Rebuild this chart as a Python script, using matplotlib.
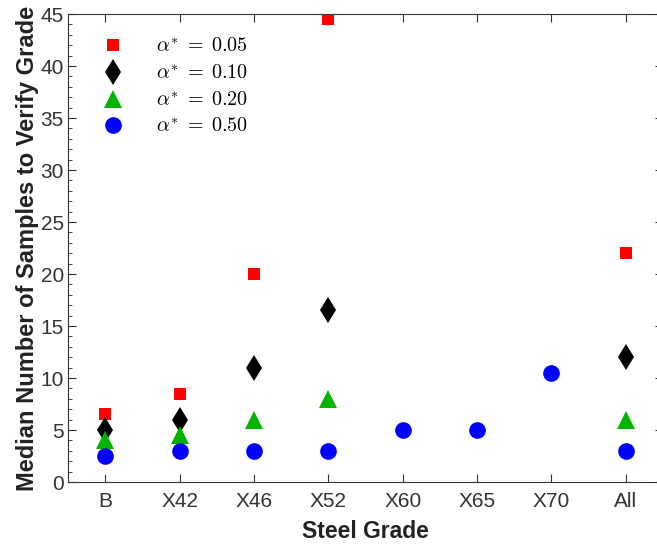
import numpy as np
import matplotlib
matplotlib.use("Agg")
import matplotlib.pyplot as plt

plt.rcParams['font.family'] = ['Liberation Sans', 'DejaVu Sans']
plt.rcParams['mathtext.fontset'] = 'cm'

grades = ["B", "X42", "X46", "X52", "X60", "X65", "X70", "All"]

# median samples per alpha*, one value per grade (None = no marker)
a005 = [6.5, 8.5, 20, 44.5, None, None, None, 22]
a010 = [5, 6, 11, 16.5, None, None, None, 12]
a020 = [4, 4.5, 6, 8, None, None, None, 6]
a050 = [2.5, 3, 3, 3, 5, 5, 10.5, 3]

series = [
    (a005, 's', 'red', 8.5, r'$\alpha^{*}\;=\;0.05$'),
    (a010, 'd', 'black', 13, r'$\alpha^{*}\;=\;0.10$'),
    (a020, '^', '#00b400', 12.5, r'$\alpha^{*}\;=\;0.20$'),
    (a050, 'o', 'blue', 12, r'$\alpha^{*}\;=\;0.50$'),
]

fig = plt.figure(figsize=(6.57, 5.46), dpi=100)
ax = fig.add_axes([68 / 657, 64 / 546, 595 / 657, 468 / 546])

x = np.arange(1, len(grades) + 1)
for vals, mk, col, ms, lab in series:
    xs = [xi for xi, v in zip(x, vals) if v is not None]
    ys = [v for v in vals if v is not None]
    ax.plot(xs, ys, linestyle='none', marker=mk, color=col, markersize=ms,
            markeredgewidth=0, label=lab)

ax.set_xlim(0.5, 8.5)
ax.set_ylim(0, 45)
ax.set_xticks(x)
ax.set_xticklabels(grades)
ax.set_yticks(np.arange(0, 46, 5))
ax.set_yticks(np.arange(0, 46, 1), minor=True)
ax.tick_params(which='both', direction='in', top=True, right=True, colors='#333333',
               labelsize=15)
ax.tick_params(which='major', length=6)
ax.tick_params(which='minor', length=3)
ax.tick_params(axis='x', pad=7)
ax.tick_params(axis='y', pad=3)
for s in ax.spines.values():
    s.set_color('#333333')

ax.set_xlabel("Steel Grade", fontsize=16.5, fontweight='bold', color='#222222', labelpad=7)
ax.set_ylabel("Median Number of Samples to Verify Grade", fontsize=17,
              fontweight='bold', color='#222222', labelpad=1)

ax.legend(loc='upper left', bbox_to_anchor=(0.011, 0.989), frameon=False, fontsize=14.5,
          handletextpad=1.15, labelspacing=0.38, borderaxespad=0.5)

fig.savefig("out.png", dpi=100)
